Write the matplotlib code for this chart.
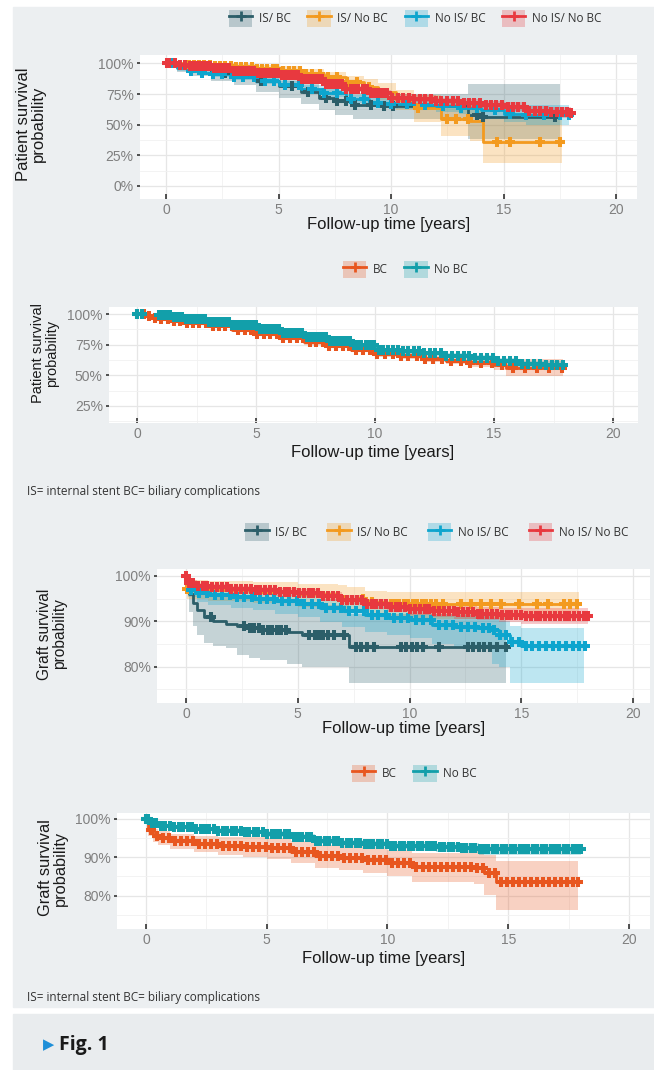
import numpy as np
import matplotlib.pyplot as plt
from matplotlib.patches import Patch, Rectangle
from matplotlib.lines import Line2D
from matplotlib.ticker import AutoMinorLocator

W, H = 654, 1070

col_isbc = "#2C5E69"
col_isnobc = "#F39A1F"
col_noisbc = "#0DA5CE"
col_noisnobc = "#E8393F"
col_bc = "#E8561F"
col_nobc = "#129FAA"

labels4 = ["IS/ BC", "IS/ No BC", "No IS/ BC", "No IS/ No BC"]
labels2 = ["BC", "No BC"]
x_ticks = [0, 5, 10, 15, 20]
p_ticks = [0, 25, 50, 75, 100]
p_ticklabels = ["0%", "25%", "50%", "75%", "100%"]
p2_ticks = [25, 50, 75, 100]
p2_ticklabels = ["25%", "50%", "75%", "100%"]
g_ticks = [80, 90, 100]
g_ticklabels = ["80%", "90%", "100%"]

# ---- panel 1: patient survival, 4 groups ----
p1_isbc_t = [0, 0.5, 1, 2, 3, 4, 5, 6, 6.8, 7.5, 8.3, 9.5, 13.4, 14.1, 17.5]
p1_isbc_s = [100, 97, 95, 92, 89, 85.5, 81.5, 77, 72, 69, 66, 65, 58, 56.5, 56.5]
p1_isbc_lo = [100, 93, 90, 86, 82, 77, 72, 67, 62, 58, 55, 55, 38, 38, 38]
p1_isbc_hi = [100, 99, 98, 96, 94, 91, 88, 85, 80, 78, 76, 75, 83, 83, 83]
p1_isbc_cens = [2.6, 4.2, 5.6, 6.3, 7.1, 7.6, 8.0, 8.4, 9.1, 9.7, 10.1, 13.8, 14.1, 17.3]

p1_isnobc_t = [0, 1, 2, 3, 4, 5, 6, 7, 8, 8.8, 9.4, 10.2, 11, 12.2, 13.5, 14.1, 17.6]
p1_isnobc_s = [100, 99, 98, 97, 95.5, 94, 91.5, 88.5, 85, 81, 77, 70, 63.5, 55, 53, 35.5, 35.5]
p1_isnobc_lo = [100, 97, 96, 94.5, 92.5, 90.5, 87.5, 84, 80, 75, 70, 62, 52, 41, 37, 19, 19]
p1_isnobc_hi = [100, 100, 100, 99.5, 98.5, 97.5, 95.5, 93, 90, 87, 84, 78, 74, 69, 68, 55, 55]
p1_isnobc_cens = [0.08, 1.02, 1.25, 1.48, 1.7, 1.95, 2.18, 2.4, 2.63, 2.87, 3.1, 3.33, 3.55, 3.8,
                  4.02, 4.26, 4.5, 4.73, 4.95, 5.2, 5.45, 5.7, 5.93, 6.2, 6.5, 6.85, 7.2, 7.6,
                  8.05, 8.5, 9.0, 9.4, 11.2, 12.5, 12.9, 13.4, 14.7, 15.3, 16.6, 17.5]

p1_noisbc_t = [0, 0.5, 1, 1.5, 2, 3, 4, 5, 6, 7, 8, 9, 10, 11, 12, 13, 14, 15, 16, 17.9]
p1_noisbc_s = [100, 96, 94, 92.5, 91.5, 89, 86, 82.5, 79, 75.5, 71, 68, 67, 66, 65, 63.5, 62, 59, 58, 58]
p1_noisbc_lo = [100, 94, 92, 90.3, 89.2, 86.5, 83.3, 79.6, 75.9, 72.2, 67.5, 64.3, 63, 61.7, 60.4,
                58.5, 56.6, 52, 50, 50]
p1_noisbc_hi = [100, 98, 96, 94.7, 93.8, 91.5, 88.7, 85.4, 82.1, 78.8, 74.5, 71.7, 71, 70.3, 69.6,
                68.5, 67.4, 66, 66, 66]
p1_noisbc_cens = [0.3, 1.1, 1.6, 2.1, 2.5, 3.0, 3.4, 3.9, 4.4, 4.8, 5.3, 5.9, 6.5, 7.0, 7.6, 8.2,
                  8.8, 9.4, 10.0, 10.7, 11.5, 12.3, 13.1, 13.8, 14.6, 15.3, 16.0, 16.8, 17.5, 17.9]

p1_noisnobc_t = [0, 0.5, 1, 2, 3, 4, 5, 6, 7, 8, 9, 10, 11, 12, 13, 14, 15, 16, 17, 18.0]
p1_noisnobc_s = [100, 98.5, 97.5, 96, 94, 92, 90.5, 87, 83, 79, 75.5, 72, 71, 69, 67.5, 66, 64.5,
                 61.5, 60, 59.5]
p1_noisnobc_lo = [100, 97.8, 96.6, 95, 92.7, 90.5, 88.8, 85.1, 81, 76.8, 73.1, 69.4, 68.2, 66, 64.3,
                  62.6, 60.9, 57.6, 55.7, 54.8]
p1_noisnobc_hi = [100, 99.2, 98.4, 97, 95.3, 93.5, 92.2, 88.9, 85, 81.2, 77.9, 74.6, 73.8, 72, 70.7,
                  69.4, 68.1, 65.4, 64.3, 64.2]
p1_noisnobc_cens = [0.02, 0.15, 0.4, 0.62, 0.85, 1.05, 1.22, 1.41, 1.58, 1.77, 1.93, 2.12, 2.3, 2.47,
                    2.66, 2.81, 3.02, 3.19, 3.38, 3.55, 3.74, 3.9, 4.08, 4.27, 4.45, 4.61, 4.8, 4.98,
                    5.16, 5.33, 5.52, 5.7, 5.86, 6.05, 6.23, 6.4, 6.58, 6.77, 6.94, 7.12, 7.3, 7.47,
                    7.66, 7.83, 8.01, 8.2, 8.37, 8.55, 8.73, 8.92, 9.1, 9.28, 9.47, 9.66, 9.84, 10.05,
                    10.3, 10.55, 10.78, 11.02, 11.27, 11.5, 11.76, 12.0, 12.24, 12.5, 12.73, 12.98,
                    13.22, 13.46, 13.7, 13.95, 14.2, 14.44, 14.68, 14.93, 15.18, 15.42, 15.66, 15.9,
                    16.15, 16.4, 16.64, 16.88, 17.12, 17.36, 17.6, 17.82, 18.0]

# ---- panel 2: patient survival, BC vs no BC ----
p2_bc_t = [0, 0.3, 0.6, 1, 1.5, 2, 3, 4, 5, 6, 7, 8, 9, 10, 11, 12, 13, 14, 15, 15.5, 17.9]
p2_bc_s = [100, 98.5, 97, 96, 94.5, 93, 90, 87, 83.5, 80.5, 77, 74, 71, 67.5, 65.5, 63.5, 62, 60, 58,
           56, 56]
p2_bc_lo = [100, 97.7, 96, 94.8, 93.2, 91.6, 88.5, 85.4, 81.8, 78.7, 75.1, 72, 68.9, 65.3, 63.1,
            60.9, 59.2, 57, 54.7, 49, 49]
p2_bc_hi = [100, 99.3, 98, 97.2, 95.8, 94.4, 91.5, 88.6, 85.2, 82.3, 78.9, 76, 73.1, 69.7, 67.9,
            66.1, 64.8, 63, 61.3, 63.5, 63.5]
p2_bc_cens = [0.0, 0.28, 0.5, 0.75, 1.0, 1.3, 1.55, 1.82, 2.1, 2.35, 2.62, 2.9, 3.17, 3.45, 3.7,
              3.98, 4.25, 4.52, 4.8, 5.06, 5.33, 5.6, 5.88, 6.15, 6.42, 6.7, 6.97, 7.25, 7.52, 7.8,
              8.08, 8.36, 8.64, 8.92, 9.2, 9.5, 9.8, 10.1, 10.42, 10.75, 11.08, 11.4, 11.75, 12.1,
              12.45, 12.8, 13.2, 13.6, 14.0, 14.45, 14.9, 15.35, 15.8, 16.3, 16.8, 17.3, 17.85]

p2_nobc_t = [0, 0.3, 0.9, 1.5, 2, 3, 4, 5, 6, 7, 8, 9, 10, 11, 12, 13, 14, 15, 16, 17, 18]
p2_nobc_s = [100, 99.5, 99, 97.5, 96, 94, 91, 88, 85, 81.5, 78, 74.5, 71, 69.5, 68, 66, 64, 61.5,
             59, 58, 58]
p2_nobc_lo = [100, 99.2, 98.5, 96.8, 95.2, 93, 89.9, 86.8, 83.7, 80.1, 76.5, 72.9, 69.3, 67.7, 66.1,
              64, 61.8, 59, 56, 54.5, 54.5]
p2_nobc_hi = [100, 99.8, 99.5, 98.2, 96.8, 95, 92.1, 89.2, 86.3, 82.9, 79.5, 76.1, 72.7, 71.3, 69.9,
              68, 66.2, 64, 62, 61.5, 61.5]
p2_nobc_cens = [0.0, 0.22, 0.92, 1.08, 1.25, 1.4, 1.57, 1.73, 1.9, 2.05, 2.22, 2.38, 2.55, 2.7, 2.87,
                3.03, 3.2, 3.35, 3.52, 3.68, 3.85, 4.0, 4.17, 4.33, 4.5, 4.66, 4.82, 4.98, 5.15,
                5.31, 5.48, 5.64, 5.8, 5.97, 6.13, 6.3, 6.46, 6.62, 6.79, 6.95, 7.12, 7.28, 7.45,
                7.61, 7.78, 7.94, 8.1, 8.27, 8.43, 8.6, 8.76, 8.93, 9.1, 9.26, 9.43, 9.6, 9.78, 9.96,
                10.15, 10.35, 10.55, 10.76, 10.97, 11.18, 11.4, 11.62, 11.84, 12.06, 12.3, 12.53,
                12.77, 13.0, 13.24, 13.48, 13.72, 13.96, 14.2, 14.45, 14.7, 14.94, 15.18, 15.43,
                15.68, 15.92, 16.17, 16.42, 16.67, 16.92, 17.17, 17.42, 17.66, 17.9]

# ---- panel 3: graft survival, 4 groups ----
p3_isbc_t = [0, 0.15, 0.3, 0.5, 0.8, 1.2, 1.8, 2.3, 2.8, 3.3, 4.5, 5.2, 7.3, 14.3]
p3_isbc_s = [100, 96, 94, 92.5, 91, 90, 89.5, 89, 88.5, 88.1, 87.6, 87, 84.3, 84.3]
p3_isbc_lo = [100, 92, 89, 87, 85.2, 84.5, 84, 82.5, 82, 81.5, 80.5, 80, 76.3, 76.3]
p3_isbc_hi = [100, 99, 98, 97, 96.5, 95.8, 95.5, 95.2, 94.8, 94.5, 94, 93.5, 91.5, 91.5]
p3_isbc_cens = [1.1, 2.6, 2.85, 3.05, 3.25, 3.45, 3.65, 3.85, 4.05, 4.25, 4.45, 5.5, 5.75, 5.95,
                6.15, 6.35, 6.6, 7.05, 7.6, 7.85, 8.1, 8.4, 9.6, 9.85, 10.1, 10.35, 10.6, 11.3,
                12.6, 12.85, 13.1, 13.35, 13.6, 13.9, 14.3]

p3_isnobc_t = [0, 0.05, 1, 3, 5, 6.8, 7.2, 8, 9, 17.6]
p3_isnobc_s = [100, 97, 96.8, 96.5, 96, 95.5, 95, 94.2, 93.9, 93.9]
p3_isnobc_lo = [100, 95, 94.5, 94, 93.2, 92.5, 91.8, 91, 90.5, 90.5]
p3_isnobc_hi = [100, 99, 98.8, 98.6, 98.3, 98, 97.5, 96.7, 96.5, 96.5]
p3_isnobc_cens = [0.05, 7.9, 8.3, 9.15, 9.35, 9.55, 9.75, 9.95, 10.15, 10.35, 10.55, 10.75, 10.95,
                  11.2, 11.5, 12.3, 12.75, 13.2, 13.65, 14.1, 14.9, 15.7, 16.2, 16.9, 17.2, 17.5]

p3_noisbc_t = [0, 0.1, 0.5, 1, 2, 3, 4, 5, 6, 7, 8, 9, 10, 11, 12, 13, 13.7, 14, 14.5, 15, 17.8]
p3_noisbc_s = [100, 96.8, 96.2, 95.8, 95.4, 95, 94.5, 93.9, 93, 92.2, 91.3, 90.8, 90.2, 89.2, 88.8,
               88.6, 88, 87, 85.5, 84.5, 84.5]
p3_noisbc_lo = [100, 95.3, 94.2, 93.6, 93, 92.4, 91.7, 90.9, 89.8, 88.8, 87.7, 87, 86.2, 85, 84.4,
                84, 80.5, 80, 76.5, 76.5, 76.5]
p3_noisbc_hi = [100, 98, 97.6, 97.3, 97, 96.7, 96.3, 95.8, 95, 94.3, 93.5, 93.1, 92.6, 91.7, 91.4,
                91.3, 90.8, 90, 89, 88.5, 88.5]
p3_noisbc_cens = [0.2, 0.6, 0.95, 1.3, 1.62, 1.95, 2.3, 2.61, 2.95, 3.3, 3.62, 3.95, 4.28, 4.6,
                  4.95, 5.3, 5.62, 5.95, 6.28, 6.6, 6.95, 7.3, 7.62, 7.95, 8.3, 8.6, 8.95, 9.3, 9.62,
                  9.95, 10.3, 10.6, 10.95, 11.3, 11.62, 11.95, 12.3, 12.6, 12.95, 13.3, 13.55, 13.8,
                  14.05, 14.3, 14.6, 14.9, 15.2, 15.5, 15.8, 16.1, 16.4, 16.7, 17.0, 17.3, 17.6,
                  17.85]

p3_noisnobc_t = [0, 0.1, 0.5, 1, 2, 3, 4, 5, 6, 7, 8, 9, 10, 11, 12, 13, 14, 15, 18]
p3_noisnobc_s = [100, 98.5, 97.8, 97.5, 97.1, 96.8, 96.5, 96.2, 95.5, 94.7, 93.8, 93.2, 92.6, 92.2,
                 92, 91.7, 91.4, 91.2, 91.1]
p3_noisnobc_lo = [100, 97.9, 97.1, 96.8, 96.3, 96, 95.6, 95.3, 94.5, 93.7, 92.7, 92.1, 91.4, 90.9,
                  90.6, 90.2, 89.8, 89.5, 89.3]
p3_noisnobc_hi = [100, 99, 98.4, 98.2, 97.8, 97.6, 97.3, 97.1, 96.5, 95.7, 94.9, 94.3, 93.8, 93.5,
                  93.4, 93.2, 93, 92.9, 92.9]
p3_noisnobc_cens = [0.0, 0.12, 0.3, 0.52, 0.74, 0.95, 1.17, 1.38, 1.6, 1.82, 2.03, 2.25, 2.46, 2.68,
                    2.9, 3.11, 3.33, 3.54, 3.76, 3.98, 4.19, 4.41, 4.62, 4.84, 5.06, 5.27, 5.49,
                    5.7, 5.92, 6.14, 6.35, 6.57, 6.78, 7.0, 7.22, 7.43, 7.65, 7.86, 8.08, 8.3, 8.51,
                    8.73, 8.94, 9.16, 9.38, 9.59, 9.81, 10.02, 10.24, 10.46, 10.67, 10.89, 11.1,
                    11.32, 11.54, 11.75, 11.97, 12.18, 12.4, 12.62, 12.83, 13.05, 13.26, 13.48,
                    13.7, 13.91, 14.13, 14.34, 14.56, 14.78, 14.99, 15.21, 15.42, 15.64, 15.86,
                    16.07, 16.29, 16.5, 16.72, 16.94, 17.15, 17.37, 17.58, 17.8, 18.0]

# ---- panel 4: graft survival, BC vs no BC ----
p4_bc_t = [0, 0.1, 0.3, 0.5, 1, 2, 3, 4, 5, 6, 7, 8, 9, 10, 11, 13.6, 14, 14.5, 17.9]
p4_bc_s = [100, 97, 95.6, 95, 94.2, 93.5, 93, 92.7, 92.3, 91.3, 90.3, 89.8, 89.2, 88.5, 87.5, 87.3,
           86, 83.5, 83.5]
p4_bc_lo = [100, 95.5, 94, 93.2, 92.2, 91.3, 90.6, 90.1, 89.5, 88.4, 87.3, 86.6, 85.8, 85, 83.7, 83,
            80.3, 76.4, 76.4]
p4_bc_hi = [100, 98.3, 97.2, 96.7, 96, 95.6, 95.3, 95.1, 94.9, 94.1, 93.2, 92.9, 92.5, 91.9, 91.2,
            91.5, 90.5, 89, 89]
p4_bc_cens = [0.0, 0.2, 0.45, 0.7, 0.95, 1.2, 1.45, 1.7, 1.95, 2.2, 2.45, 2.7, 2.95, 3.2, 3.45, 3.7,
              3.95, 4.2, 4.45, 4.7, 4.95, 5.2, 5.45, 5.7, 5.95, 6.2, 6.45, 6.7, 6.95, 7.2, 7.45,
              7.7, 7.95, 8.2, 8.45, 8.7, 8.95, 9.2, 9.45, 9.7, 9.95, 10.2, 10.45, 10.7, 10.95, 11.2,
              11.45, 11.7, 11.95, 12.2, 12.45, 12.7, 12.95, 13.2, 13.45, 13.7, 13.95, 14.2, 14.45,
              14.7, 14.95, 15.2, 15.45, 15.7, 15.95, 16.2, 16.45, 16.7, 16.95, 17.2, 17.45, 17.7,
              17.9]

p4_nobc_t = [0, 0.1, 0.5, 1, 2, 3, 4, 5, 6, 7, 8, 9, 10, 11, 12, 13, 13.8, 18]
p4_nobc_s = [100, 98.8, 98, 97.7, 97.3, 96.9, 96.5, 96, 95.3, 94.3, 93.7, 93.3, 93, 92.8, 92.6, 92.4,
             92, 92]
p4_nobc_lo = [100, 98.3, 97.5, 97.2, 96.8, 96.3, 95.9, 95.3, 94.6, 93.5, 92.9, 92.4, 92, 91.7, 91.4,
              91.1, 90.6, 90.6]
p4_nobc_hi = [100, 99.3, 98.5, 98.2, 97.8, 97.5, 97.1, 96.7, 96, 95.1, 94.5, 94.2, 94, 93.9, 93.8,
              93.7, 93.4, 93.4]
p4_nobc_cens = [0.0, 0.08, 0.25, 0.43, 0.62, 0.8, 0.98, 1.17, 1.35, 1.53, 1.72, 1.9, 2.08, 2.27, 2.45,
                2.63, 2.82, 3.0, 3.18, 3.37, 3.55, 3.73, 3.92, 4.1, 4.28, 4.47, 4.65, 4.83, 5.02,
                5.2, 5.38, 5.57, 5.75, 5.93, 6.12, 6.3, 6.48, 6.67, 6.85, 7.03, 7.22, 7.4, 7.58,
                7.77, 7.95, 8.13, 8.32, 8.5, 8.68, 8.87, 9.05, 9.23, 9.42, 9.6, 9.78, 9.97, 10.15,
                10.33, 10.52, 10.7, 10.88, 11.07, 11.25, 11.43, 11.62, 11.8, 11.98, 12.17, 12.35,
                12.53, 12.72, 12.9, 13.08, 13.27, 13.45, 13.63, 13.82, 14.0, 14.18, 14.37, 14.55,
                14.73, 14.92, 15.1, 15.28, 15.47, 15.65, 15.83, 16.02, 16.2, 16.38, 16.57, 16.75,
                16.93, 17.12, 17.3, 17.48, 17.67, 17.85, 18.0]

bg_grey = "#ECEFF1"
tick_grey = "#7F7F7F"
lab_font = "Liberation Sans"
txt_font = "Open Sans"

fig = plt.figure(figsize=(W / 100, H / 100), dpi=100, facecolor="white")
fig.add_artist(Rectangle((13 / W, 1 - 1007 / H), 1 - 13 / W, (1007 - 7) / H,
                         transform=fig.transFigure, color=bg_grey, zorder=-10))
fig.add_artist(Rectangle((13 / W, 0), 1 - 13 / W, (1070 - 1014) / H,
                         transform=fig.transFigure, color="#E9ECEE", zorder=-10))


def px_axes(left, top, right, bottom):
    return fig.add_axes([left / W, 1 - bottom / H, (right - left) / W, (bottom - top) / H])


def draw_km(ax, curves):
    for t, s, lo, hi, cens, c in curves:
        ax.fill_between(t, lo, hi, step="post", color=c, alpha=0.27, lw=0)
    for t, s, lo, hi, cens, c in curves:
        ax.step(t, s, where="post", color=c, lw=2.0)
    for t, s, lo, hi, cens, c in curves:
        idx = np.searchsorted(t, cens, side="right") - 1
        ax.plot(cens, np.asarray(s)[idx], "+", color=c, ms=7.5, mew=2.9, ls="none")


def style(ax, xlim, ylim, yticks, yticklabels, ylabel, ylab_xy, xlab_xy, ylab_size=12):
    ax.set_facecolor("white")
    for sp in ax.spines.values():
        sp.set_visible(False)
    ax.set_xlim(*xlim)
    ax.set_ylim(*ylim)
    ax.set_xticks(x_ticks)
    ax.set_yticks(yticks)
    ax.set_yticklabels(yticklabels)
    ax.xaxis.set_minor_locator(AutoMinorLocator(2))
    ax.yaxis.set_minor_locator(AutoMinorLocator(2))
    ax.grid(which="major", color="#E6E6E6", lw=0.9)
    ax.grid(which="minor", color="#F1F1F1", lw=0.6)
    ax.set_axisbelow(True)
    ax.tick_params(which="minor", length=0)
    ax.tick_params(axis="x", which="major", direction="in", length=3.5, width=1.2,
                   color="#333333", pad=3, labelsize=10, labelcolor=tick_grey)
    ax.tick_params(axis="y", which="major", direction="out", length=2.5, width=1.2,
                   color="#333333", pad=2, labelsize=10, labelcolor=tick_grey)
    for lab in ax.get_xticklabels() + ax.get_yticklabels():
        lab.set_family(lab_font)
    ax.set_xlabel("Follow-up time [years]", fontsize=12, family=lab_font, color="#1A1A1A")
    ax.xaxis.set_label_coords(xlab_xy[0] / W, 1 - xlab_xy[1] / H, transform=fig.transFigure)
    ax.xaxis.label.set_va("center")
    ax.set_ylabel(ylabel, fontsize=ylab_size, family=lab_font, color="#1A1A1A",
                  linespacing=1.0)
    ax.yaxis.set_label_coords(ylab_xy[0] / W, 1 - ylab_xy[1] / H, transform=fig.transFigure)
    ax.yaxis.label.set_va("center")


def legend(colors, labels, cx, cy, colsp):
    handles = [(Patch(facecolor=c, alpha=0.27, edgecolor="none"),
                Line2D([], [], color=c, lw=2.0, marker="+", ms=7.5, mew=2.0)) for c in colors]
    fig.legend(handles, labels, loc="center", bbox_to_anchor=(cx / W, 1 - cy / H),
               ncol=len(labels), frameon=False, handlelength=2.0, handleheight=1.9,
               handletextpad=0.55, columnspacing=colsp,
               prop={"family": txt_font, "size": 8.5}, labelcolor="#333333")


# panel 1
ax1 = px_axes(140, 55, 637, 199)
draw_km(ax1, [
    (p1_isbc_t, p1_isbc_s, p1_isbc_lo, p1_isbc_hi, p1_isbc_cens, col_isbc),
    (p1_isnobc_t, p1_isnobc_s, p1_isnobc_lo, p1_isnobc_hi, p1_isnobc_cens, col_isnobc),
    (p1_noisbc_t, p1_noisbc_s, p1_noisbc_lo, p1_noisbc_hi, p1_noisbc_cens, col_noisbc),
    (p1_noisnobc_t, p1_noisnobc_s, p1_noisnobc_lo, p1_noisnobc_hi, p1_noisnobc_cens, col_noisnobc),
])
style(ax1, (-1.16, 20.93), (-10.6, 106.8), p_ticks, p_ticklabels,
      "Patient survival\nprobability", (31, 124), (389, 225))
legend([col_isbc, col_isnobc, col_noisbc, col_noisnobc], labels4, 415, 18.5, 1.4)

# panel 2
ax2 = px_axes(109, 307, 638, 423)
draw_km(ax2, [
    (p2_bc_t, p2_bc_s, p2_bc_lo, p2_bc_hi, p2_bc_cens, col_bc),
    (p2_nobc_t, p2_nobc_s, p2_nobc_lo, p2_nobc_hi, p2_nobc_cens, col_nobc),
])
style(ax2, (-1.18, 21.05), (10.9, 105.9), p2_ticks, p2_ticklabels,
      "Patient survival\nprobability", (45, 353), (373, 452), ylab_size=10.5)
legend([col_bc, col_nobc], labels2, 405.5, 269.5, 1.4)
fig.text(27 / W, 1 - 492 / H, "IS= internal stent BC= biliary complications",
         family=txt_font, fontsize=8.5, color="#333333", va="center", ha="left")

# panel 3
ax3 = px_axes(157, 569, 650, 703)
draw_km(ax3, [
    (p3_isbc_t, p3_isbc_s, p3_isbc_lo, p3_isbc_hi, p3_isbc_cens, col_isbc),
    (p3_isnobc_t, p3_isnobc_s, p3_isnobc_lo, p3_isnobc_hi, p3_isnobc_cens, col_isnobc),
    (p3_noisbc_t, p3_noisbc_s, p3_noisbc_lo, p3_noisbc_hi, p3_noisbc_cens, col_noisbc),
    (p3_noisnobc_t, p3_noisnobc_s, p3_noisnobc_lo, p3_noisnobc_hi, p3_noisnobc_cens, col_noisnobc),
])
style(ax3, (-1.3, 20.76), (72.0, 101.5), g_ticks, g_ticklabels,
      "Graft survival\nprobability", (52, 634), (404, 728), ylab_size=11.2)
legend([col_isbc, col_isnobc, col_noisbc, col_noisnobc], labels4, 436.5, 532, 1.7)

# panel 4
ax4 = px_axes(117, 813, 650, 929)
draw_km(ax4, [
    (p4_bc_t, p4_bc_s, p4_bc_lo, p4_bc_hi, p4_bc_cens, col_bc),
    (p4_nobc_t, p4_nobc_s, p4_nobc_lo, p4_nobc_hi, p4_nobc_cens, col_nobc),
])
style(ax4, (-1.2, 20.87), (71.4, 101.44), g_ticks, g_ticklabels,
      "Graft survival\nprobability", (53, 868), (384, 958), ylab_size=11.8)
legend([col_bc, col_nobc], labels2, 414.5, 773.5, 1.4)
fig.text(27 / W, 1 - 998 / H, "IS= internal stent BC= biliary complications",
         family=txt_font, fontsize=8.5, color="#333333", va="center", ha="left")

# figure tag
fig.text(43 / W, 1 - 1045 / H, "\u25B6", family="DejaVu Sans", fontsize=10.5,
         color="#1E8FD8", va="center", ha="left")
fig.text(59 / W, 1 - 1045 / H, "Fig. 1", family=txt_font, fontsize=14, fontweight="bold",
         color="#1A1A1A", va="center", ha="left")

fig.savefig("out.png", dpi=100, facecolor="white")
